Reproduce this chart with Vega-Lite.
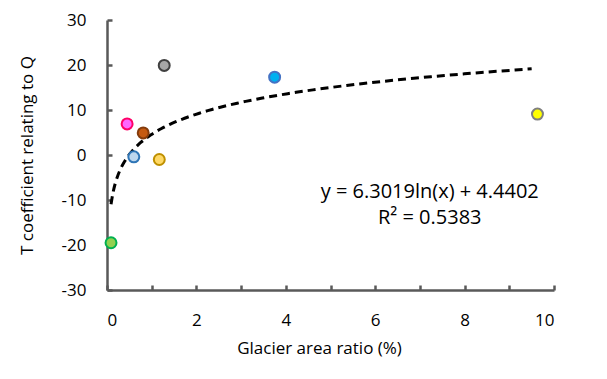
{
  "$schema": "https://vega.github.io/schema/vega-lite/v6.json",
  "width": 447,
  "height": 270,
  "autosize": "none",
  "padding": {"left": 107, "top": 20, "right": 53, "bottom": 89},
  "background": "white",
  "config": {
    "view": {"stroke": null},
    "font": "Open Sans",
    "axis": {
      "grid": false,
      "domainColor": "#595959",
      "domainWidth": 2.5,
      "tickColor": "#595959",
      "tickWidth": 2.5,
      "tickSize": -5,
      "labelFont": "Open Sans",
      "labelFontSize": 17,
      "labelColor": "#000000",
      "titleFont": "Open Sans",
      "titleFontSize": 17,
      "titleFontWeight": "normal",
      "titleColor": "#000000"
    }
  },
  "layer": [
    {
      "data": {
        "values": [
          {"id": "A", "ratio": 0.09, "coef": -19.5},
          {"id": "B", "ratio": 0.45, "coef": 6.9},
          {"id": "C", "ratio": 0.81, "coef": 4.9},
          {"id": "D", "ratio": 0.6, "coef": -0.4},
          {"id": "E", "ratio": 1.17, "coef": -1.0},
          {"id": "F", "ratio": 1.28, "coef": 19.9},
          {"id": "G", "ratio": 3.75, "coef": 17.3},
          {"id": "H", "ratio": 9.63, "coef": 9.1}
        ]
      },
      "encoding": {
        "x": {
          "field": "ratio",
          "type": "quantitative",
          "scale": {"domain": [0, 10], "nice": false, "zero": false},
          "axis": {
            "title": "Glacier area ratio (%)",
            "values": [0, 1, 2, 3, 4, 5, 6, 7, 8, 9, 10],
            "labelExpr": "datum.value % 2 === 0 ? toString(datum.value) : ''",
            "labelPadding": 27,
            "titlePadding": 12,
            "titleX": 212
          }
        },
        "y": {
          "field": "coef",
          "type": "quantitative",
          "scale": {"domain": [-30, 30], "nice": false},
          "axis": {
            "title": "T coefficient relating to Q",
            "values": [-30, -20, -10, 0, 10, 20, 30],
            "labelExpr": "toString(datum.value)",
            "labelPadding": 26,
            "titlePadding": 25
          }
        }
      },
      "layer": [
        {
          "transform": [
            {"regression": "coef", "on": "ratio", "method": "log", "extent": [0.09, 9.5]}
          ],
          "mark": {"type": "line", "color": "#000000", "strokeWidth": 3, "strokeDash": [8, 5], "interpolate": "monotone"}
        },
        {
          "mark": {"type": "point", "shape": "circle", "filled": true, "size": 120, "strokeWidth": 2, "opacity": 1},
          "encoding": {
            "fill": {
              "field": "id",
              "type": "nominal",
              "legend": null,
              "scale": {
                "domain": ["A", "B", "C", "D", "E", "F", "G", "H"],
                "range": ["#92D050", "#FF66FF", "#C55A11", "#BDD7EE", "#FFD966", "#A6A6A6", "#00B0F0", "#FFFF00"]
              }
            },
            "stroke": {
              "field": "id",
              "type": "nominal",
              "legend": null,
              "scale": {
                "domain": ["A", "B", "C", "D", "E", "F", "G", "H"],
                "range": ["#00B050", "#FF0066", "#843C0C", "#2E75B6", "#BF9000", "#404040", "#4472C4", "#7F7F7F"]
              }
            }
          }
        }
      ]
    },
    {
      "data": {"values": [{"eq": "y = 6.3019ln(x) + 4.4402", "r2": "R² = 0.5383"}]},
      "layer": [
        {
          "mark": {"type": "text", "font": "Open Sans", "fontSize": 20, "fontWeight": "normal", "color": "#000000", "align": "center", "baseline": "middle"},
          "encoding": {
            "x": {"datum": 7.22, "type": "quantitative"},
            "y": {"datum": -8.2, "type": "quantitative"},
            "text": {"field": "eq"}
          }
        },
        {
          "mark": {"type": "text", "font": "Open Sans", "fontSize": 20, "fontWeight": "normal", "color": "#000000", "align": "center", "baseline": "middle"},
          "encoding": {
            "x": {"datum": 7.22, "type": "quantitative"},
            "y": {"datum": -14.0, "type": "quantitative"},
            "text": {"field": "r2"}
          }
        }
      ]
    }
  ]
}
